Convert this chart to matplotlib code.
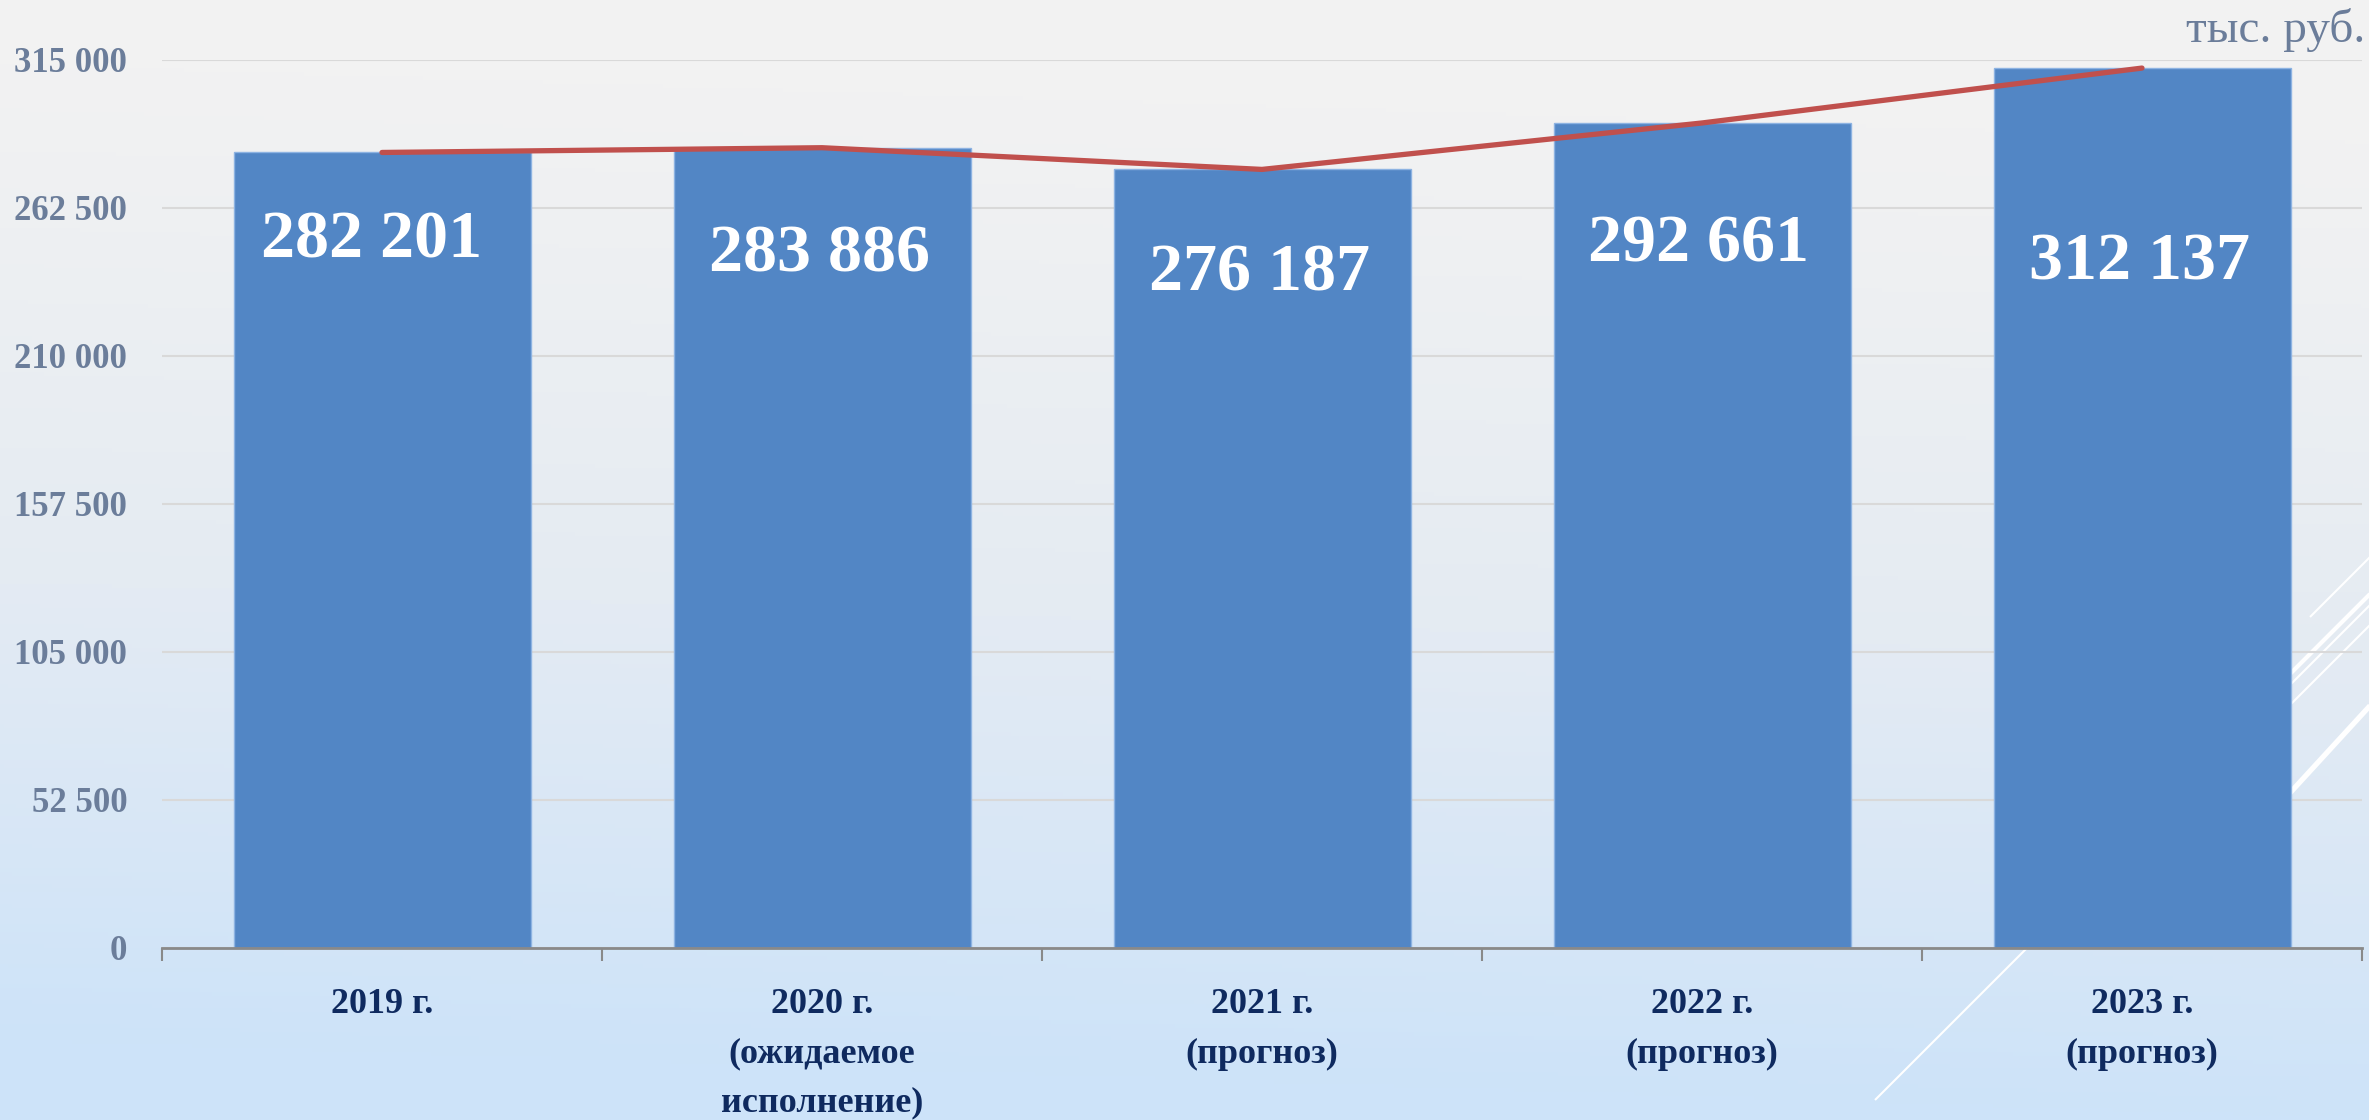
import numpy as np
import matplotlib
matplotlib.use("Agg")
import matplotlib.pyplot as plt
from matplotlib.colors import LinearSegmentedColormap

plt.rcParams["font.family"] = ["Liberation Serif", "DejaVu Serif"]

# data
categories = [
    "2019 г.",
    "2020 г.\n(ожидаемое\nисполнение)",
    "2021 г.\n(прогноз)",
    "2022 г.\n(прогноз)",
    "2023 г.\n(прогноз)",
]
values = [282201, 283886, 276187, 292661, 312137]
value_labels = ["282 201", "283 886", "276 187", "292 661", "312 137"]
# baselines of the value labels (data units) - placed by hand in the original
label_baselines = [244800, 240100, 233100, 243500, 237300]
label_shift = [-0.023, -0.005, -0.005, -0.007, -0.005]
yticks = [0, 52500, 105000, 157500, 210000, 262500, 315000]
ytick_labels = ["0", "52 500", "105 000", "157 500", "210 000", "262 500", "315 000"]
unit_label = "тыс. руб."

W, H = 2369, 1120
fig = plt.figure(figsize=(W / 100, H / 100), dpi=100)

# background gradient + decorative white strokes
bg = fig.add_axes([0, 0, 1, 1], zorder=0)
bg.set_xlim(0, W)
bg.set_ylim(H, 0)
bg.axis("off")
yy, xx = np.mgrid[0:H:4, 0:W:4]
t = np.clip((yy / H - 0.12) / 0.88 + 0.08 * (1 - xx / W), 0, 1) ** 1.1
cmap = LinearSegmentedColormap.from_list("bg", ["#F2F2F2", "#E4EBF3", "#CDE3F9"])
bg.imshow(t, cmap=cmap, extent=[0, W, H, 0], aspect="auto", vmin=0, vmax=1)
strokes = [
    ((1875, 2400), (1100, 575), 1.5),
    ((2310, 2400), (617, 527), 1.5),
    ((2150, 2400), (814, 564), 3.0),
    ((2200, 2400), (795, 595), 1.5),
    ((2200, 2400), (891, 673), 3.8),
]
for xs, ys, lw in strokes:
    bg.plot(xs, ys, color="white", lw=lw, solid_capstyle="butt")

ax = fig.add_axes([162 / W, 1 - 948 / H, 2200 / W, 888 / H], zorder=1)
ax.patch.set_alpha(0)

x = np.arange(len(values))
ax.bar(x, values, width=0.675, color="#5286C5", edgecolor="#8DB3E2", linewidth=1, zorder=2)
ax.plot(x, values, color="#C0504D", lw=3.8, solid_capstyle="round", zorder=3)

for i, (lab, yb) in enumerate(zip(value_labels, label_baselines)):
    ax.text(i + label_shift[i], yb, lab, ha="center", va="baseline",
            fontsize=49, fontweight="bold", color="white", zorder=4)

ax.set_xlim(-0.5, len(values) - 0.5)
ax.set_ylim(0, 315000)
ax.set_yticks(yticks)
ax.set_yticklabels(ytick_labels, fontsize=25, fontweight="bold", color="#6B7D9A")
ax.tick_params(axis="y", length=0, pad=25)
ax.yaxis.grid(True, color="#D9D9D9", lw=1.5, zorder=0)
ax.set_axisbelow(True)

ax.set_xticks(np.arange(len(values) + 1) - 0.5)
ax.set_xticklabels([])
ax.tick_params(axis="x", which="major", length=9, width=1.5, color="#898989", direction="out")
ax.set_xticks(x, minor=True)
ax.set_xticklabels(categories, minor=True, fontsize=26, fontweight="bold",
                   color="#0F2A5F", linespacing=1.65, va="top")
ax.tick_params(axis="x", which="minor", length=0, pad=29)

for s in ["left", "right", "top"]:
    ax.spines[s].set_visible(False)
ax.spines["bottom"].set_color("#898989")
ax.spines["bottom"].set_linewidth(2)

fig.text(2365 / W, 1 - 42 / H, unit_label, ha="right", va="baseline",
         fontsize=34, color="#6B7D9A")

fig.savefig("out.png", dpi=100)
plt.close(fig)
